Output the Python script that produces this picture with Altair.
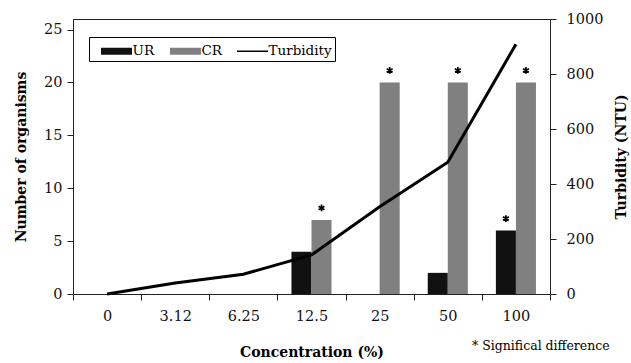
import altair as alt
import pandas as pd

categories = ["0", "3.12", "6.25", "12.5", "25", "50", "100"]
ur_values = [0, 0, 0, 4, 0, 2, 6]
cr_values = [0, 0, 0, 7, 20, 20, 20]
turbidity = [0, 40, 72, 142, 317, 479, 908]
ur_signif = [False, False, False, False, False, False, True]
cr_signif = [False, False, False, True, True, True, True]
series_names = ["UR", "CR", "Turbidity"]
series_colors = ["#111111", "#808080", "#000000"]
note_text = ["* Significal difference"]

FONT = "DejaVu Serif"
LBL = 14.5
TTL = 14

bars_df = pd.DataFrame({
    "conc": categories * 2,
    "series": ["UR"] * len(categories) + ["CR"] * len(categories),
    "value": ur_values + cr_values,
    "sig": ur_signif + cr_signif,
})
line_df = pd.DataFrame({
    "conc": categories,
    "series": ["Turbidity"] * len(categories),
    "ntu": turbidity,
})
sig_df = bars_df[bars_df["sig"]].reset_index(drop=True)
note_df = pd.DataFrame({"t": note_text})

axis_style = dict(
    grid=False, labelFont=FONT, labelFontSize=LBL, labelColor="#111111",
    tickColor="#222222", domainColor="#222222", tickSize=6,
    titleFont=FONT, titleFontSize=TTL, titleFontWeight="bold", titleColor="#000000",
)

x_enc = alt.X(
    "conc:N", sort=categories,
    scale=alt.Scale(paddingInner=0, paddingOuter=0),
    axis=alt.Axis(title="Concentration (%)", labelAngle=0, tickBand="extent",
                  labelPadding=9, titlePadding=23, **axis_style),
)
xoff = alt.XOffset("series:N", scale=alt.Scale(domain=["UR", "CR"], paddingInner=0, paddingOuter=0.7))

rect_path = "M-1.41,-0.32H1.41V0.32H-1.41Z"
line_path = "M-1.41,-0.07H1.41V0.07H-1.41Z"
star_path = "M0,-1V1M-0.87,-0.5L0.87,0.5M-0.87,0.5L0.87,-0.5"

legend = alt.Legend(
    title=None, orient="none", legendX=16, legendY=18, direction="horizontal",
    strokeColor="#000000", fillColor="#ffffff", padding=3,
    symbolSize=484, symbolOffset=13.5, symbolStrokeWidth=0, symbolOpacity=1,
    labelOffset=5, columnPadding=6,
    labelFont=FONT, labelFontSize=13.5, labelColor="#000000",
)

color_enc = alt.Color(
    "series:N",
    scale=alt.Scale(domain=series_names, range=series_colors),
    legend=legend,
)
shape_enc = alt.Shape(
    "series:N",
    scale=alt.Scale(domain=series_names, range=[rect_path, rect_path, line_path]),
    legend=legend,
)

y_left = alt.Y(
    "value:Q", scale=alt.Scale(domain=[0, 25]),
    axis=alt.Axis(title="Number of organisms", values=[0, 5, 10, 15, 20, 25],
                  labelPadding=5, titlePadding=15, **axis_style),
)

bars = alt.Chart(bars_df).mark_bar().encode(x=x_enc, xOffset=xoff, y=y_left, color=color_enc)

legend_pts = alt.Chart(bars_df).mark_point(filled=True, opacity=0).encode(
    x=x_enc, xOffset=xoff, y=alt.Y("value:Q"), color=color_enc, shape=shape_enc
)

stars = alt.Chart(sig_df).mark_point(
    shape=star_path, size=46, filled=False, stroke="#000000", strokeWidth=1.7,
    opacity=1, yOffset=-12,
).encode(x=x_enc, xOffset=xoff, y=alt.Y("value:Q"))

line = alt.Chart(line_df).mark_line(strokeWidth=3).encode(
    x=x_enc,
    y=alt.Y(
        "ntu:Q", scale=alt.Scale(domain=[0, 1000]),
        axis=alt.Axis(orient="right", title="Turbidity (NTU)", values=[0, 200, 400, 600, 800, 1000],
                      format="d", labelPadding=10, titleAngle=270, titlePadding=26, **axis_style),
    ),
    color=color_enc,
)

note = alt.Chart(note_df).mark_text(
    font=FONT, fontSize=12.5, align="left", baseline="middle", color="#000000"
).encode(text="t:N", x=alt.value(399), y=alt.value(327))

chart = alt.layer(
    alt.layer(bars, legend_pts, stars),
    line,
    note,
).resolve_scale(y="independent").properties(
    width=477, height=275,
    autosize=alt.AutoSizeParams(type="none"),
    padding={"left": 73, "top": 19, "right": 81, "bottom": 69},
    background="#ffffff",
).configure_view(stroke="#222222", strokeWidth=1)

chart.save("out.html", embed_options={"renderer": "svg", "actions": False})
